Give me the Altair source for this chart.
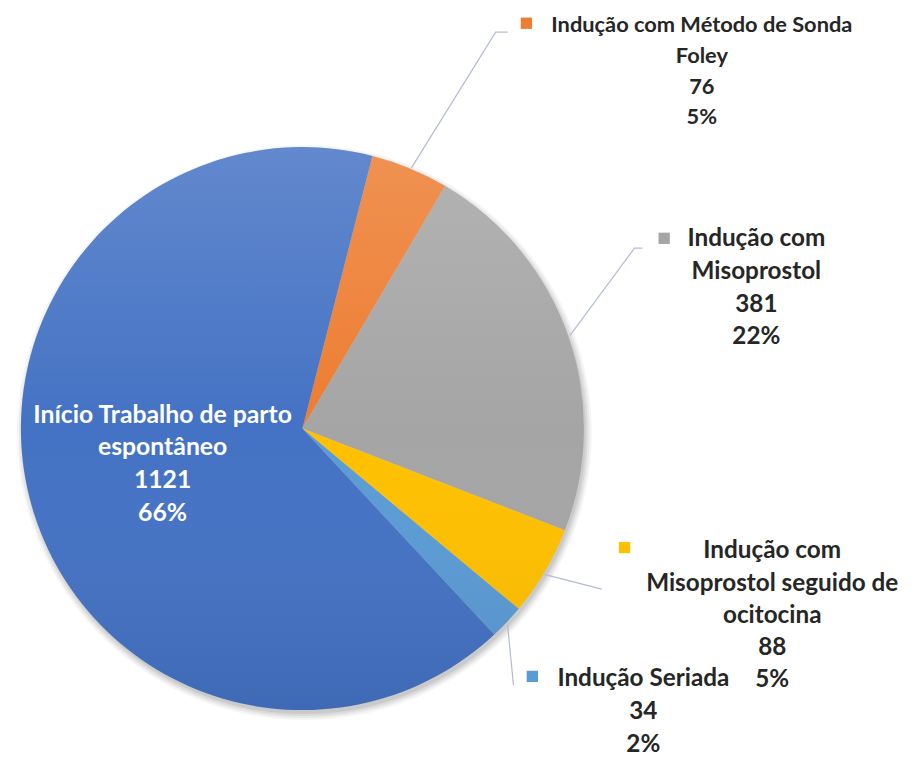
import math
import altair as alt
import pandas as pd

# ---------------- data ----------------
categories = [
    "Indução com Método de Sonda Foley",
    "Indução com Misoprostol",
    "Indução com Misoprostol seguido de ocitocina",
    "Indução Seriada",
    "Início Trabalho de parto espontâneo",
]
values = [76, 381, 88, 34, 1121]
percent_labels = ["5%", "22%", "5%", "2%", "66%"]
colors = ["#ED7D31", "#A5A5A5", "#FFC000", "#5B9BD5", "#4472C4"]
name_lines = [
    ["Indução com Método de Sonda", "Foley"],
    ["Indução com", "Misoprostol"],
    ["Indução com", "Misoprostol seguido de", "ocitocina"],
    ["Indução Seriada"],
    ["Início Trabalho de parto", "espontâneo"],
]

# ---------------- layout (pixel positions in page coordinates) ----------------
M = 8  # page margin
CX, CY, R = 305, 429, 284
START = math.radians(14.4)

# label block: center x, first line y, line spacing, font size, colour
label_layout = [
    (708, 22, 31, 22, "#262626"),
    (763, 238, 33, 24.5, "#262626"),
    (779, 553, 32.5, 24.5, "#262626"),
    (649, 682, 33, 24.5, "#262626"),
    (164, 415, 33, 25, "#FFFFFF"),
]
key_layout = [(531, 20), (670, 237), (630, 549), (537, 679), None]
leader_layout = [
    [(415, 166), (500, 29), (512, 29)],
    [(575, 335), (640, 247), (648, 247)],
    [(549, 576), (607, 591)],
    [(512, 627), (518, 688)],
    None,
]

# ---------------- tables ----------------
pie_df = pd.DataFrame({
    "category": categories,
    "value": values,
    "order": list(range(len(categories))),
})

text_rows = []
for i, cat in enumerate(categories):
    cx, y0, dy, fs, col = label_layout[i]
    lines = name_lines[i] + [str(values[i]), percent_labels[i]]
    for j, t in enumerate(lines):
        text_rows.append({"text": t, "px": cx - M, "py": y0 + j * dy - M, "fs": fs, "col": col})
text_df = pd.DataFrame(text_rows)

key_rows = []
for i, cat in enumerate(categories):
    if key_layout[i] is not None:
        key_rows.append({"category": cat, "px": key_layout[i][0] - M, "py": key_layout[i][1] - M})
key_df = pd.DataFrame(key_rows)

leader_rows = []
for i, path in enumerate(leader_layout):
    if path is None:
        continue
    for j, (px, py) in enumerate(path):
        leader_rows.append({"lid": i, "seq": j, "px": px - M, "py": py - M})
leader_df = pd.DataFrame(leader_rows)

color_scale = alt.Scale(domain=categories, range=colors)
one = pd.DataFrame({"k": [0]})

# soft shadow under the pie
shadows = []
for k, op in [(6, 0.04), (4, 0.05), (2, 0.06), (0, 0.07)]:
    shadows.append(
        alt.Chart(one).mark_arc(radius=R + k, theta=0, theta2=2 * math.pi,
                                fill="#000000", opacity=op)
        .encode(x=alt.value(CX - M + 2), y=alt.value(CY - M + 4))
    )

pie = alt.Chart(pie_df).mark_arc(radius=R, stroke=None).encode(
    theta=alt.Theta("value:Q", stack=True,
                    scale=alt.Scale(range=[START, START + 2 * math.pi])),
    order=alt.Order("order:Q"),
    color=alt.Color("category:N", scale=color_scale, legend=None),
    x=alt.value(CX - M),
    y=alt.value(CY - M),
)

sheen = alt.Chart(one).mark_arc(
    radius=R, theta=0, theta2=2 * math.pi,
    fill=alt.Gradient(
        gradient="linear", x1=0, y1=0, x2=0, y2=1,
        stops=[
            alt.GradientStop(color="rgba(255,255,255,0.16)", offset=0),
            alt.GradientStop(color="rgba(255,255,255,0.0)", offset=0.5),
            alt.GradientStop(color="rgba(0,0,0,0.08)", offset=1),
        ],
    ),
).encode(x=alt.value(CX - M), y=alt.value(CY - M))

leaders = alt.Chart(leader_df).mark_line(color="#B4BCD0", strokeWidth=1.2).encode(
    x=alt.X("px:Q", scale=None, axis=None),
    y=alt.Y("py:Q", scale=None, axis=None),
    detail="lid:N",
    order="seq:Q",
)

keys = alt.Chart(key_df).mark_square(size=130, opacity=1).encode(
    x=alt.X("px:Q", scale=None, axis=None),
    y=alt.Y("py:Q", scale=None, axis=None),
    color=alt.Color("category:N", scale=color_scale, legend=None),
)

texts = alt.Chart(text_df).mark_text(
    font="Lato", fontWeight="bold", align="center", baseline="middle"
).encode(
    x=alt.X("px:Q", scale=None, axis=None),
    y=alt.Y("py:Q", scale=None, axis=None),
    text="text:N",
    size=alt.Size("fs:Q", scale=None, legend=None),
    color=alt.Color("col:N", scale=None, legend=None),
)

chart = alt.layer(*shadows, pie, sheen, leaders, keys, texts).properties(
    width=909, height=753, padding=0, autosize="none"
).configure_view(stroke=None).resolve_scale(color="independent")

chart.save("out.html", embed_options={"renderer": "svg", "actions": False})
